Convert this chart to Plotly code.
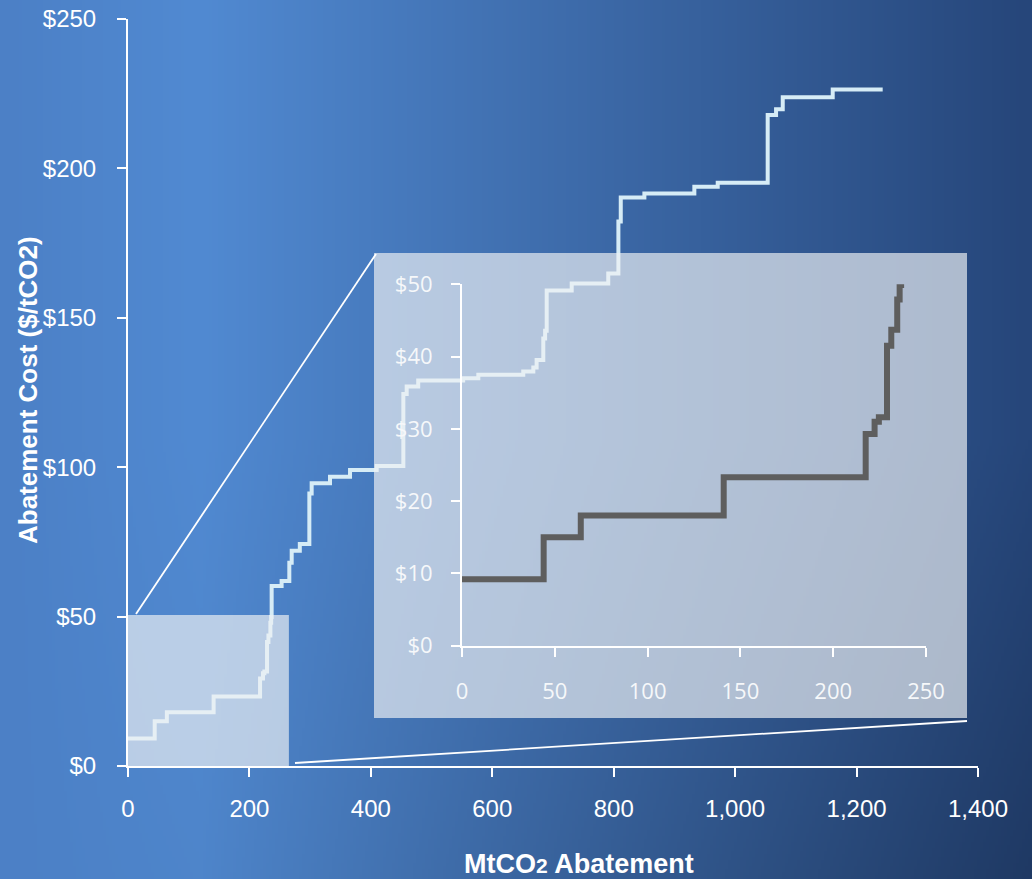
import base64
import struct
import zlib

import numpy as np
import plotly.graph_objects as go

# ---------------- data ----------------
abatement = [0, 44, 64, 141, 217.5, 222.3, 224.6, 229, 231.3, 234.5, 235.8,
             236.6, 253, 265.7, 269.6, 283, 298.7, 302.5, 332.7, 365.7, 409.6,
             453.5, 459, 478, 552, 577, 651, 667.6, 673, 684, 687, 689.6,
             730.8, 791, 807.7, 811.6, 850.5, 932.8, 971.3, 1053.6, 1067.4,
             1078.4, 1160.7, 1243]
cost = [9.2, 15, 18, 23.3, 29.3, 31, 31.6, 41.5, 43.7, 47.9, 49.9,
        60.2, 61.9, 68, 72, 74.3, 91.2, 94.6, 96.8, 99.1, 100.4,
        124.5, 127, 129, 129.8, 130.9, 132, 133.4, 135.9, 143.1, 145.7, 159.1,
        161.5, 164.8, 182.2, 190.3, 191.6, 193.9, 195.2, 217.9, 219.8,
        223.8, 226.4, 226.4]

x_tickvals = [0, 200, 400, 600, 800, 1000, 1200, 1400]
x_ticktext = ["0", "200", "400", "600", "800", "1,000", "1,200", "1,400"]
y_tickvals = [0, 50, 100, 150, 200, 250]
y_ticktext = ["$0", "$50", "$100", "$150", "$200", "$250"]

inset_x_tickvals = [0, 50, 100, 150, 200, 250]
inset_x_ticktext = ["0", "50", "100", "150", "200", "250"]
inset_y_tickvals = [0, 10, 20, 30, 40, 50]
inset_y_ticktext = ["$0", "$10", "$20", "$30", "$40", "$50"]

zoom_window_x = 265
zoom_window_y = 50.5

# ---------------- figure geometry ----------------
W, H = 1032, 879
L, R, T, B = 128, 54, 19, 113
PW, PH = W - L - R, H - T - B


def px_x(p):
    return (p - L) / PW


def px_y(p):
    return (H - B - p) / PH


# ---------------- background gradient as an embedded PNG ----------------
def gradient_png(w, h):
    xs = np.linspace(0, W, w)
    ys = np.linspace(0, H, h)
    X, Y = np.meshgrid(xs, ys)
    c_left = np.array([76, 128, 198], float)
    c_mid = np.array([81, 138, 210], float)
    c_right = np.array([38, 70, 122], float)
    t1 = np.clip(X / 200.0, 0, 1)[..., None]
    t2 = np.clip((X - 200) / 832.0, 0, 1)[..., None]
    col = np.where(X[..., None] < 200,
                   c_left + (c_mid - c_left) * t1,
                   c_mid + (c_right - c_mid) * t2)
    dark = 1 - 0.18 * (X / W) * np.clip((Y - 440) / 440.0, 0, 1)
    col = col * dark[..., None]
    img = np.clip(col, 0, 255).astype(np.uint8)
    raw = b"".join(b"\x00" + img[r].tobytes() for r in range(h))

    def chunk(tag, data):
        c = struct.pack(">I", len(data)) + tag + data
        return c + struct.pack(">I", zlib.crc32(tag + data) & 0xFFFFFFFF)

    png = (b"\x89PNG\r\n\x1a\n"
           + chunk(b"IHDR", struct.pack(">IIBBBBB", w, h, 8, 2, 0, 0, 0))
           + chunk(b"IDAT", zlib.compress(raw, 9))
           + chunk(b"IEND", b""))
    return "data:image/png;base64," + base64.b64encode(png).decode()


bg_uri = gradient_png(344, 293)

LINE_LIGHT = "rgb(214,236,246)"
LINE_DARK = "#5e5e5e"
OVERLAY = "rgba(238,240,243,0.68)"
WHITE = "white"

fig = go.Figure()

# main curve
fig.add_trace(go.Scatter(
    x=abatement, y=cost, mode="lines", line=dict(shape="hv", color=LINE_LIGHT, width=4),
    xaxis="x", yaxis="y", hoverinfo="skip", showlegend=False))

# holder subplot for the inset panel background
fig.add_trace(go.Scatter(x=[], y=[], xaxis="x2", yaxis="y2", mode="lines",
                         hoverinfo="skip", showlegend=False))

# inset curve
fig.add_trace(go.Scatter(
    x=abatement, y=cost, mode="lines", line=dict(shape="hv", color=LINE_DARK, width=6),
    xaxis="x3", yaxis="y3", hoverinfo="skip", showlegend=False))

main_tick_font = dict(family="Liberation Sans, Arial, sans-serif", size=24, color=WHITE)
inset_tick_font = dict(family="Open Sans, sans-serif", size=22, color="rgb(246,248,250)")

axis_common = dict(showline=True, linecolor=WHITE, linewidth=2, ticks="outside",
                   ticklen=9, tickwidth=2, tickcolor=WHITE, showgrid=False,
                   zeroline=False, fixedrange=True)

box_x0, box_x1 = px_x(374), px_x(967)
box_y0, box_y1 = px_y(718), px_y(253)

fig.update_layout(
    width=W, height=H,
    margin=dict(l=L, r=R, t=T, b=B, pad=0),
    paper_bgcolor="#3f70ae",
    plot_bgcolor="rgba(0,0,0,0)",
    template="none",
    showlegend=False,
    xaxis=dict(domain=[0, 1], range=[0, 1400], anchor="y", tickvals=x_tickvals,
               ticktext=x_ticktext, tickfont=main_tick_font, ticklabelstandoff=11,
               **axis_common),
    yaxis=dict(domain=[0, 1], range=[0, 250], anchor="x", tickvals=y_tickvals,
               ticktext=y_ticktext, tickfont=main_tick_font, ticklabelstandoff=16,
               **axis_common),
    xaxis2=dict(domain=[box_x0, box_x1], range=[0, 1], anchor="y2", visible=False,
                fixedrange=True),
    yaxis2=dict(domain=[box_y0, box_y1], range=[0, 1], anchor="x2", visible=False,
                fixedrange=True),
    xaxis3=dict(domain=[px_x(462), px_x(926)], range=[0, 250], anchor="y3",
                tickvals=inset_x_tickvals, ticktext=inset_x_ticktext,
                tickfont=inset_tick_font, ticklabelstandoff=16, **axis_common),
    yaxis3=dict(domain=[px_y(645.7), px_y(284.3)], range=[0, 50], anchor="x3",
                tickvals=inset_y_tickvals, ticktext=inset_y_ticktext,
                tickfont=inset_tick_font, ticklabelstandoff=14, **axis_common),
    images=[dict(source=bg_uri, xref="paper", yref="paper", x=px_x(0), y=px_y(0),
                 sizex=W / PW, sizey=H / PH, xanchor="left", yanchor="top",
                 sizing="stretch", layer="below")],
    shapes=[
        # inset panel background (drawn in the holder subplot, below inset curve)
        dict(type="rect", xref="x2", yref="y2", x0=0, x1=1, y0=0, y1=1,
             fillcolor=OVERLAY, line=dict(width=0), layer="below"),
        # highlighted zoom window on the main chart
        dict(type="rect", xref="x", yref="y", x0=0, x1=zoom_window_x, y0=0,
             y1=zoom_window_y, fillcolor=OVERLAY, line=dict(width=0), layer="above"),
        # connector lines
        dict(type="line", xref="paper", yref="paper", x0=px_x(136), y0=px_y(614),
             x1=px_x(376), y1=px_y(254), line=dict(color=WHITE, width=1.8), layer="above"),
        dict(type="line", xref="paper", yref="paper", x0=px_x(295), y0=px_y(763),
             x1=px_x(967), y1=px_y(721), line=dict(color=WHITE, width=1.8), layer="above"),
    ],
    annotations=[
        dict(text="Abatement Cost ($/tCO2)", xref="paper", yref="paper",
             x=px_x(28), y=px_y(390), xanchor="center", yanchor="middle",
             textangle=-90, showarrow=False,
             font=dict(family="Liberation Sans, Arial, sans-serif", size=26,
                       color=WHITE, weight="bold")),
        dict(text="MtCO<span style='font-size:21px'>2</span> Abatement",
             xref="paper", yref="paper", x=px_x(579), y=px_y(864),
             xanchor="center", yanchor="middle", showarrow=False,
             font=dict(family="Liberation Sans, Arial, sans-serif", size=27,
                       color=WHITE, weight="bold")),
    ],
)

fig.write_html("out.html",
               config={"displayModeBar": False},
               post_script="document.body.style.margin='0';"
                           "document.body.style.overflow='hidden';")
